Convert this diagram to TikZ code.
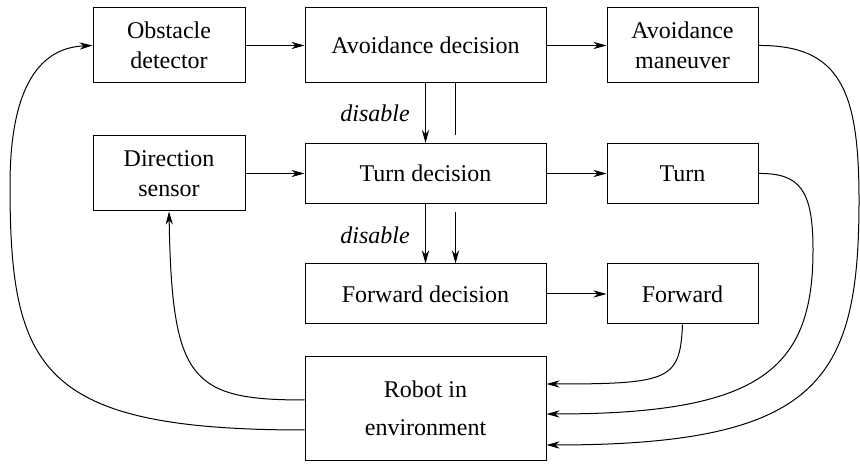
\documentclass[tikz,border=0pt]{standalone}
\usepackage{fontspec}
\setmainfont{LiberationSerif}[Extension=.ttf, UprightFont=*-Regular, ItalicFont=*-Italic, BoldFont=*-Bold]
\usetikzlibrary{arrows.meta}
\tikzset{>={Stealth[length=6.5pt,width=3.6pt,inset=2pt]}}
\tikzset{
  blk/.style={draw, line width=0.5pt, rectangle, inner sep=0pt, align=center,
    font=\fontsize{12}{15}\selectfont},
  narrow/.style={blk, minimum width=76pt, minimum height=37.5pt},
  wide/.style={blk, minimum width=120.5pt, minimum height=30pt},
  side/.style={blk, minimum width=75.5pt, minimum height=30pt},
  lbl/.style={font=\fontsize{12}{15}\selectfont\itshape}
}

\begin{document}
\begin{tikzpicture}[x=0.5pt,y=-0.5pt,line width=0.5pt]
\useasboundingbox (0,0) rectangle (860,474);
% top row
\node[narrow] (obst) at (169,45.5) {Obstacle\\detector};
\node[wide, minimum height=37.5pt] (avoid) at (425.5,45.5) {Avoidance decision};
\node[side, minimum height=37.5pt] (maneuv) at (682.5,45.5) {Avoidance\\maneuver};
% middle rows
\node[narrow] (dirsens) at (169,173.5) {Direction\\sensor};
\node[wide] (turndec) at (425.5,173.5) {Turn decision};
\node[side] (turn) at (682.5,173.5) {Turn};
\node[wide] (fwddec) at (425.5,294) {Forward decision};
\node[side] (fwd) at (682.5,294) {Forward};
\node[wide, minimum height=52pt, font=\fontsize{12}{19}\selectfont] (robot) at (425.5,408.5) {Robot in\\environment};
\node[lbl] (dis1) at (375,113) {disable};
\node[lbl] (dis2) at (375,235) {disable};

\draw[->] (obst) -- (avoid);
\draw[->] (avoid) -- (maneuv);
\draw[->] (dirsens) -- (turndec);
\draw[->] (turndec) -- (turn);
\draw[->] (fwddec) -- (fwd);
\draw[->] (avoid) -- (turndec);
\draw ([xshift=15pt]avoid.south) -- ++(0,52);
\draw[->] (turndec) -- (fwddec);
\draw[->] ([xshift=15pt,yshift=-4.25pt]turndec.south) -- ([xshift=15pt]fwddec.north);

% feedback from the robot
\draw[->] ([yshift=-10.75pt]robot.west) .. controls (40,430) and (10,370) .. (10,185)
  .. controls (10,95) and (35,48) .. (obst.west);
\draw[->] ([yshift=4.25pt]robot.west) .. controls (190,400) and (172,380) .. (dirsens.south);
% outputs to the robot
\draw[->] (maneuv.east) .. controls (840,45) and (859,90) .. (859,200)
  .. controls (859,380) and (820,445) .. ([yshift=-18.25pt]robot.east);
\draw[->] (turn.east) .. controls (800,173) and (813,190) .. (813,250)
  .. controls (813,370) and (760,414) .. ([yshift=-2.75pt]robot.east);
\draw[->] (fwd.south) .. controls (680,380) and (670,384) .. ([yshift=12.25pt]robot.east);
\end{tikzpicture}
\end{document}
